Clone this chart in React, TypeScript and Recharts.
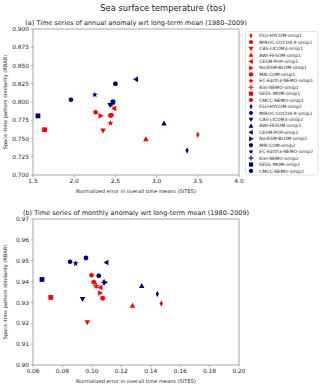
import React from 'react';
import { ScatterChart, Scatter, XAxis, YAxis, ReferenceArea } from 'recharts';

const FONT = '"DejaVu Sans", Verdana, sans-serif';
const RED = '#ff0000';
const NAVY = '#000080';
const FRAME = '#8f8f8f';

const MODELS = [
  'FSU-HYCOM', 'MIROC-COCO4.9', 'CAS-LICOM3', 'AWI-FESOM', 'CESM-POP', 'NorESM-BLOM',
  'MRI.COM', 'EC-Earth3-NEMO', 'Kiel-NEMO', 'GFDL-MOM', 'CMCC-NEMO',
];
const MARKERS = [
  'thinDiamond', 'hexagon', 'triDown', 'triUp', 'triLeft', 'triRight',
  'octagon', 'star', 'plus', 'square', 'circle',
];

// (a) annual anomaly
const ANNUAL_SITES_OMIP1 = [3.5, 2.26, 2.35, 2.87, 2.485, 2.32, 2.44, 2.44, 2.46, 1.64, 2.45];
const ANNUAL_RBAR_OMIP1 = [0.755, 0.786, 0.761, 0.749, 0.791, 0.781, 0.7815, 0.771, 0.797, 0.762, 0.782];
const ANNUAL_SITES_OMIP2 = [3.37, 1.96, 2.435, 3.09, 2.75, 2.47, 2.5, 2.25, 2.45, 1.56, 2.47];
const ANNUAL_RBAR_OMIP2 = [0.7335, 0.803, 0.796, 0.7705, 0.831, 0.799, 0.825, 0.81, 0.798, 0.781, 0.8005];

// (b) monthly anomaly
const MONTHLY_SITES_OMIP1 = [0.1472, 0.0998, 0.0969, 0.1276, 0.1058, 0.1056, 0.1013, 0.1029, 0.103, 0.0721, 0.1074];
const MONTHLY_RBAR_OMIP1 = [0.9295, 0.943, 0.9205, 0.9284, 0.9372, 0.9345, 0.9397, 0.9378, 0.938, 0.9324, 0.932];
const MONTHLY_SITES_OMIP2 = [0.1445, 0.0852, 0.0937, 0.1339, 0.1099, 0.1088, 0.1047, 0.089, 0.1085, 0.0661, 0.096];
const MONTHLY_RBAR_OMIP2 = [0.934, 0.9495, 0.9316, 0.9379, 0.9491, 0.9395, 0.9428, 0.9487, 0.9396, 0.941, 0.9513];

const ANNUAL_X_TICKS = [1.5, 2.0, 2.5, 3.0, 3.5, 4.0];
const ANNUAL_Y_TICKS = [0.7, 0.725, 0.75, 0.775, 0.8, 0.825, 0.85, 0.875, 0.9];
const MONTHLY_X_TICKS = [0.06, 0.08, 0.1, 0.12, 0.14, 0.16, 0.18, 0.2];
const MONTHLY_Y_TICKS = [0.9, 0.91, 0.92, 0.93, 0.94, 0.95, 0.96, 0.97];

type Series = { name: string; marker: string; color: string; data: { x: number; y: number }[] };

const buildSeries = (sites: number[], rbar: number[], exp: string, color: string): Series[] =>
  MODELS.map((m, i) => ({
    name: `${m}-${exp}`,
    marker: MARKERS[i],
    color,
    data: [{ x: sites[i], y: rbar[i] }],
  }));

const ANNUAL = [
  ...buildSeries(ANNUAL_SITES_OMIP1, ANNUAL_RBAR_OMIP1, 'omip1', RED),
  ...buildSeries(ANNUAL_SITES_OMIP2, ANNUAL_RBAR_OMIP2, 'omip2', NAVY),
];
const MONTHLY = [
  ...buildSeries(MONTHLY_SITES_OMIP1, MONTHLY_RBAR_OMIP1, 'omip1', RED),
  ...buildSeries(MONTHLY_SITES_OMIP2, MONTHLY_RBAR_OMIP2, 'omip2', NAVY),
];

// regular polygon corners on a unit circle
const ring = (n: number, rot: number, k = 1) =>
  Array.from({ length: n }, (_, i) => {
    const a = rot + (i * 2 * Math.PI) / n;
    return [Math.cos(a) * k, Math.sin(a) * k];
  });

function Marker({ kind, cx, cy, color, r = 2.4 }: any) {
  if (cx == null || cy == null) return null;
  const pts = (arr: number[][]) => arr.map(([x, y]) => `${cx + x * r},${cy + y * r}`).join(' ');
  switch (kind) {
    case 'thinDiamond':
      return <polygon points={pts([[0, -1.35], [0.65, 0], [0, 1.35], [-0.65, 0]])} fill={color} />;
    case 'hexagon':
      return <polygon points={pts(ring(6, -Math.PI / 2, 1.05))} fill={color} />;
    case 'octagon':
      return <polygon points={pts(ring(8, Math.PI / 8, 1.05))} fill={color} />;
    case 'circle':
      return <circle cx={cx} cy={cy} r={r} fill={color} />;
    case 'triUp':
      return <polygon points={pts([[0, -1.25], [1.15, 0.85], [-1.15, 0.85]])} fill={color} />;
    case 'triDown':
      return <polygon points={pts([[0, 1.25], [1.15, -0.85], [-1.15, -0.85]])} fill={color} />;
    case 'triLeft':
      return <polygon points={pts([[-1.25, 0], [0.85, -1.15], [0.85, 1.15]])} fill={color} />;
    case 'triRight':
      return <polygon points={pts([[1.25, 0], [-0.85, -1.15], [-0.85, 1.15]])} fill={color} />;
    case 'square':
      return <rect x={cx - r} y={cy - r} width={2 * r} height={2 * r} fill={color} />;
    case 'star': {
      const outer = ring(5, -Math.PI / 2, 1.3);
      const inner = ring(5, -Math.PI / 2 + Math.PI / 5, 0.55);
      const star = outer.flatMap((p, i) => [p, inner[i]]);
      return <polygon points={pts(star)} fill={color} />;
    }
    case 'plus':
      return (
        <path
          d={`M${cx - 1.2 * r},${cy}H${cx + 1.2 * r}M${cx},${cy - 1.2 * r}V${cy + 1.2 * r}`}
          stroke={color}
          strokeWidth={1.1}
        />
      );
    default:
      return null;
  }
}

const tickStyle = { fill: '#262626', fontSize: 5.9, fontFamily: FONT };
const labelStyle = { fill: '#262626', fontSize: 5.1, fontFamily: FONT };

function Panel({ top, title, series, xDomain, yDomain, xTicks, yTicks, xDigits, yDigits }: any) {
  return (
    <div style={{ position: 'absolute', left: 0, top, width: 245, height: 196 }}>
      <ScatterChart width={245} height={196} margin={{ top: 29, right: 6, bottom: 0, left: 0 }}>
        <XAxis
          type="number"
          dataKey="x"
          domain={xDomain}
          ticks={xTicks}
          interval={0}
          allowDataOverflow
          height={21}
          tickSize={2}
          tickMargin={2}
          axisLine={false}
          tickLine={{ stroke: FRAME, strokeWidth: 0.7 }}
          tick={tickStyle}
          tickFormatter={(v: number) => v.toFixed(xDigits)}
          label={{ value: 'Normalized error in overall time means (SITES)', position: 'insideBottom', offset: 3, style: labelStyle }}
        />
        <YAxis
          type="number"
          dataKey="y"
          domain={yDomain}
          ticks={yTicks}
          interval={0}
          allowDataOverflow
          width={33}
          tickSize={2}
          tickMargin={2}
          axisLine={false}
          tickLine={{ stroke: FRAME, strokeWidth: 0.7 }}
          tick={tickStyle}
          tickFormatter={(v: number) => v.toFixed(yDigits)}
          label={{
            value: 'Space–time pattern similarity (RBAR)', angle: -90, position: 'insideLeft', offset: 5,
            style: { ...labelStyle, textAnchor: 'middle' },
          }}
        />
        <ReferenceArea
          x1={xDomain[0]} x2={xDomain[1]} y1={yDomain[0]} y2={yDomain[1]}
          fill="none" stroke={FRAME} strokeWidth={0.8} fillOpacity={0}
        />
        {series.map((s: Series) => (
          <Scatter
            key={s.name}
            name={s.name}
            data={s.data}
            fill={s.color}
            isAnimationActive={false}
            shape={(p: any) => <Marker kind={s.marker} cx={p.cx} cy={p.cy} color={s.color} />}
          />
        ))}
      </ScatterChart>
      <div
        style={{
          position: 'absolute', left: 0, top: 19, width: 272, textAlign: 'center', lineHeight: '8px',
          fontFamily: FONT, fontSize: 6.5, color: '#1a1a1a', whiteSpace: 'nowrap',
        }}
      >
        {title}
      </div>
    </div>
  );
}

function LegendBox() {
  const step = 6.44;
  return (
    <svg style={{ position: 'absolute', left: 245, top: 31 }} width={74} height={145}>
      <rect x={0.5} y={0.5} width={72.5} height={143.5} rx={1.5} fill="#fff" stroke="#d4d4d4" strokeWidth={0.7} />
      {ANNUAL.map((s, i) => (
        <g key={s.name}>
          <Marker kind={s.marker} cx={6} cy={4.7 + i * step} color={s.color} r={2.1} />
          <text
            x={14.3}
            y={4.7 + i * step}
            dy="0.35em"
            fontSize={4.5}
            fontFamily={FONT}
            fill="#262626"
          >
            {s.name}
          </text>
        </g>
      ))}
    </svg>
  );
}

export default function App() {
  return (
    <div style={{ position: 'absolute', left: 0, top: 0, width: 320, height: 386, background: '#fff', overflow: 'hidden' }}>
      <div
        style={{
          position: 'absolute', left: 0, top: 3, width: 326, textAlign: 'center', lineHeight: '10px',
          fontFamily: FONT, fontSize: 8.3, color: '#1a1a1a',
        }}
      >
        Sea surface temperature (tos)
      </div>
      <Panel
        top={0}
        title="(a) Time series of annual anomaly wrt long-term mean (1980–2009)"
        series={ANNUAL}
        xDomain={[1.5, 4.0]}
        yDomain={[0.7, 0.9]}
        xTicks={ANNUAL_X_TICKS}
        yTicks={ANNUAL_Y_TICKS}
        xDigits={1}
        yDigits={3}
      />
      <Panel
        top={190}
        title="(b) Time series of monthly anomaly wrt long-term mean (1980–2009)"
        series={MONTHLY}
        xDomain={[0.06, 0.2]}
        yDomain={[0.9, 0.97]}
        xTicks={MONTHLY_X_TICKS}
        yTicks={MONTHLY_Y_TICKS}
        xDigits={2}
        yDigits={2}
      />
      <LegendBox />
    </div>
  );
}
